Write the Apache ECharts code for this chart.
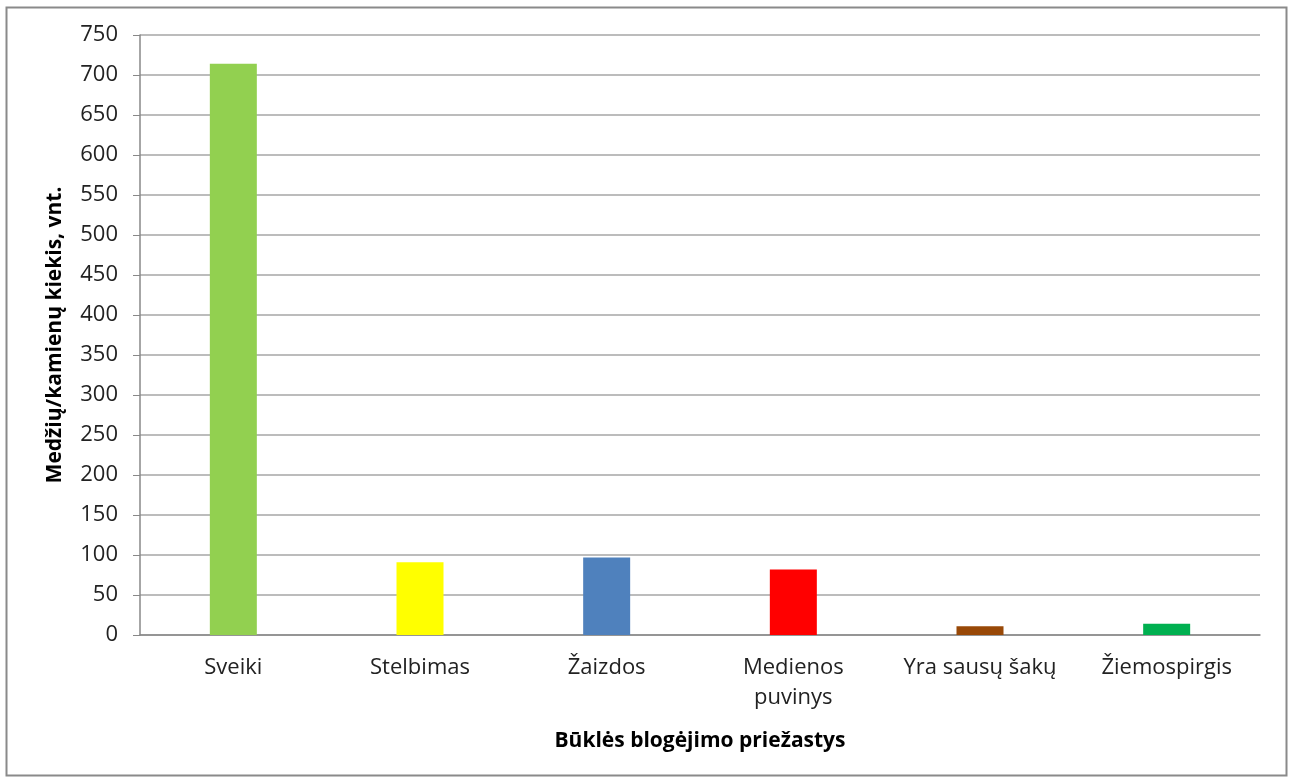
<!DOCTYPE html>
<html>
<head>
<meta charset="utf-8">
<script src="https://cdn.jsdelivr.net/npm/echarts@6/dist/echarts.min.js"></script>
<style>
html,body{margin:0;padding:0;background:#fff;}
#chart{width:1293px;height:780px;}
</style>
</head>
<body>
<div id="chart"></div>
<script>
const categories = ['Sveiki', 'Stelbimas', 'Žaizdos', 'Medienos\npuvinys', 'Yra sausų šakų', 'Žiemospirgis'];
const values = [714, 91, 97, 82, 11, 14];
const barColors = ['#92D050', '#FFFF00', '#4F81BD', '#FF0000', '#984807', '#00B050'];
const yTicks = [0, 50, 100, 150, 200, 250, 300, 350, 400, 450, 500, 550, 600, 650, 700, 750];
const xTitle = 'Būklės blogėjimo priežastys';
const yTitle = 'Medžių/kamienų kiekis, vnt.';

const font = '"Open Sans", "Noto Sans", sans-serif';
const chart = echarts.init(document.getElementById('chart'), null, {renderer: 'canvas'});
chart.setOption({
  animation: false,
  backgroundColor: '#fff',
  graphic: [{
    type: 'rect',
    shape: {x: 6.5, y: 7.5, width: 1280, height: 768},
    style: {fill: 'none', stroke: '#8a8a8a', lineWidth: 2},
    silent: true
  }],
  grid: {left: 140, right: 33, top: 35, bottom: 145, containLabel: false},
  xAxis: {
    type: 'category',
    data: categories,
    name: xTitle,
    nameLocation: 'middle',
    nameGap: 96,
    nameTextStyle: {fontFamily: font, fontWeight: 'bold', fontSize: 21, color: '#000'},
    axisLine: {lineStyle: {color: '#888', width: 1.5}},
    axisTick: {show: false},
    axisLabel: {fontFamily: font, fontSize: 22, color: '#222', margin: 18, interval: 0, lineHeight: 30}
  },
  yAxis: {
    type: 'value',
    min: yTicks[0],
    max: yTicks[yTicks.length - 1],
    interval: 50,
    name: yTitle,
    nameLocation: 'middle',
    nameGap: 74,
    nameRotate: 90,
    nameTextStyle: {fontFamily: font, fontWeight: 'bold', fontSize: 21, color: '#000'},
    axisLine: {show: true, lineStyle: {color: '#888', width: 1.5}},
    axisTick: {show: true, inside: false, length: 7, lineStyle: {color: '#888'}},
    axisLabel: {fontFamily: font, fontSize: 22, color: '#222', margin: 22},
    splitLine: {lineStyle: {color: '#a6a6a6', width: 1.5}}
  },
  series: [{
    type: 'bar',
    data: values.map((v, i) => ({value: v, itemStyle: {color: barColors[i]}})),
    barWidth: 47
  }]
});
</script>
</body>
</html>
